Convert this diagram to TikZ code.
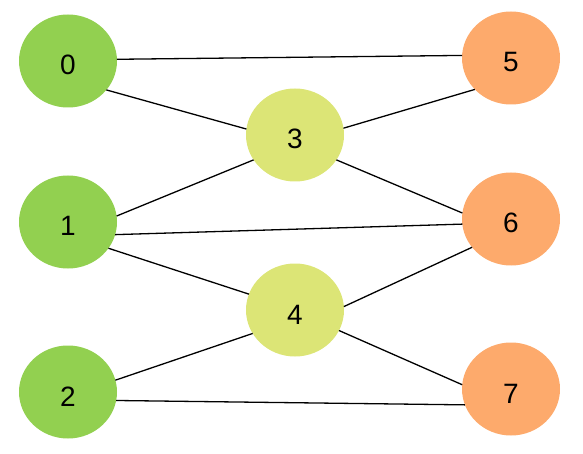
\documentclass[tikz,border=0pt]{standalone}
\usepackage{fontspec}
\setmainfont{Liberation Sans}
\usepackage{xcolor}
\usetikzlibrary{shapes.geometric}
\definecolor{leftgreen}{HTML}{92D050}
\definecolor{midyellow}{HTML}{DCE576}
\definecolor{rightorange}{HTML}{FDAA6C}

\begin{document}
\begin{tikzpicture}[x=1pt, y=-1pt,
  vertex/.style={ellipse, minimum width=98pt, minimum height=93pt, inner sep=0pt, outer sep=0pt,
    font=\fontsize{28}{30}\selectfont, text height=28pt, text depth=0pt},
  src/.style={vertex, fill=leftgreen},
  hub/.style={vertex, fill=midyellow},
  sink/.style={vertex, fill=rightorange},
  edge/.style={line width=1.3pt, black}
]
\useasboundingbox (0,0) rectangle (583,454);
\node[src] (v0) at (68,61) {0};
\node[src] (v1) at (68,222) {1};
\node[src] (v2) at (68,392) {2};
\node[hub] (v3) at (295,135) {3};
\node[hub] (v4) at (295,310) {4};
\node[sink] (v5) at (511,58) {5};
\node[sink] (v6) at (511,219) {6};
\node[sink] (v7) at (511,389) {7};

% edges leave and enter at fixed points of the rims
\draw[edge] (v0.2) -- (v5.177);
\draw[edge] (v0.-37) -- (v3.173);
\draw[edge] (v3.8) -- (v5.221);
\draw[edge] (v1.7) -- (v3.211);
\draw[edge] (v3.-31) -- (v6.173);
\draw[edge] (v1.-15) -- (v6.186);
\draw[edge] (v1.-33) -- (v4.161);
\draw[edge] (v4.4) -- (v6.216);
\draw[edge] (v2.14) -- (v4.209);
\draw[edge] (v4.-25) -- (v7.175);
\draw[edge] (v2.-10) -- (v7.199);
\end{tikzpicture}
\end{document}
